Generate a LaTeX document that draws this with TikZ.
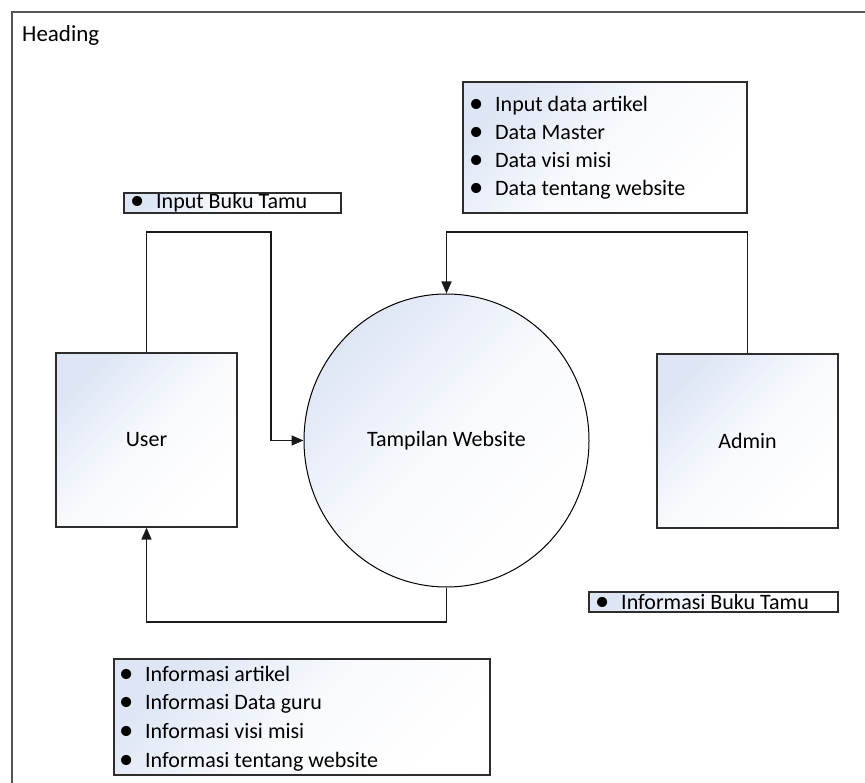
\documentclass[tikz,border=0pt]{standalone}
\usepackage{fontspec}
\setmainfont{Carlito}
\usetikzlibrary{arrows.meta,shapes.geometric}

\definecolor{shadeblue}{RGB}{222,230,245}
\definecolor{framegray}{RGB}{85,85,85}
\definecolor{edgegray}{RGB}{45,45,45}

\tikzset{
  txt/.style={font=\fontsize{22}{28}\selectfont, inner sep=0pt, text=black},
  softshade/.style={top color=shadeblue, bottom color=white,
    middle color=shadeblue!20!white, shading angle=45},
  entity/.style={rectangle, draw=edgegray, line width=1.2pt,
    minimum width=181pt, minimum height=174pt, inner sep=0pt,
    softshade, txt},
  process/.style={ellipse, draw=black, line width=1pt,
    minimum width=285pt, minimum height=293pt, inner sep=0pt,
    softshade, txt},
  listbox/.style={rectangle, draw=edgegray, line width=1.2pt, inner sep=0pt,
    softshade},
  listtext/.style={txt, align=left, anchor=west},
  flow/.style={draw=black!90, line width=1.6pt},
  flowarrow/.style={flow, -{Triangle[length=12pt,width=10pt]}},
}
\newcommand{\bul}{\makebox[26pt][l]{\raisebox{-1pt}{\scalebox{1.3}{\textbullet}}}}

\begin{document}
\begin{tikzpicture}[x=1pt,y=-1pt]
  \useasboundingbox (0,0) rectangle (865,783);
  \clip (0,0) rectangle (865,783);

  % page frame
  \draw[framegray, line width=2pt] (12,12) rectangle (900,820);
  \node[txt, font=\fontsize{23}{28}\selectfont, anchor=base west] (heading) at (22,42) {Heading};

  % entities and process
  \node[entity] (user) at (146.5,440) {User};
  \node[entity] (admin) at (747.5,441) {Admin};
  \node[process] (circ) at (446.5,440.5) {Tampilan Website};

  % data lists
  \node[listbox, minimum width=284pt, minimum height=131pt] (inbox) at (605,147.5) {};
  \node[listtext] (intext) at (469,148) {\bul Input data artikel\\ \bul Data Master\\ \bul Data visi misi\\ \bul Data tentang website};

  \node[listbox, minimum width=217pt, minimum height=20pt] (guestin) at (232.5,203) {};
  \node[listtext] (guestintext) at (130,203) {\bul Input Buku Tamu};

  \node[listbox, minimum width=249pt, minimum height=20pt] (guestout) at (713.5,602) {};
  \node[listtext] (guestouttext) at (595,602) {\bul Informasi Buku Tamu};

  \node[listbox, minimum width=376pt, minimum height=116pt] (outbox) at (302,717) {};
  \node[listtext, font=\fontsize{22}{28.7}\selectfont] (outtext) at (119,718.5) {\bul Informasi artikel\\ \bul Informasi Data guru\\ \bul Informasi visi misi\\ \bul Informasi tentang website};

  % flows
  \coordinate (ua) at (146.5,232);
  \coordinate (ub) at (271,232);
  \draw[flowarrow] (user.north) -- (ua) -- (ub) |- (circ.west);

  \coordinate (ac) at (446.5,232);
  \draw[flowarrow] (admin.north) |- (ac) -- (circ.north);

  \coordinate (bc) at (446.5,622);
  \draw[flowarrow] (circ.south) -- (bc) -| (user.south);
\end{tikzpicture}
\end{document}
